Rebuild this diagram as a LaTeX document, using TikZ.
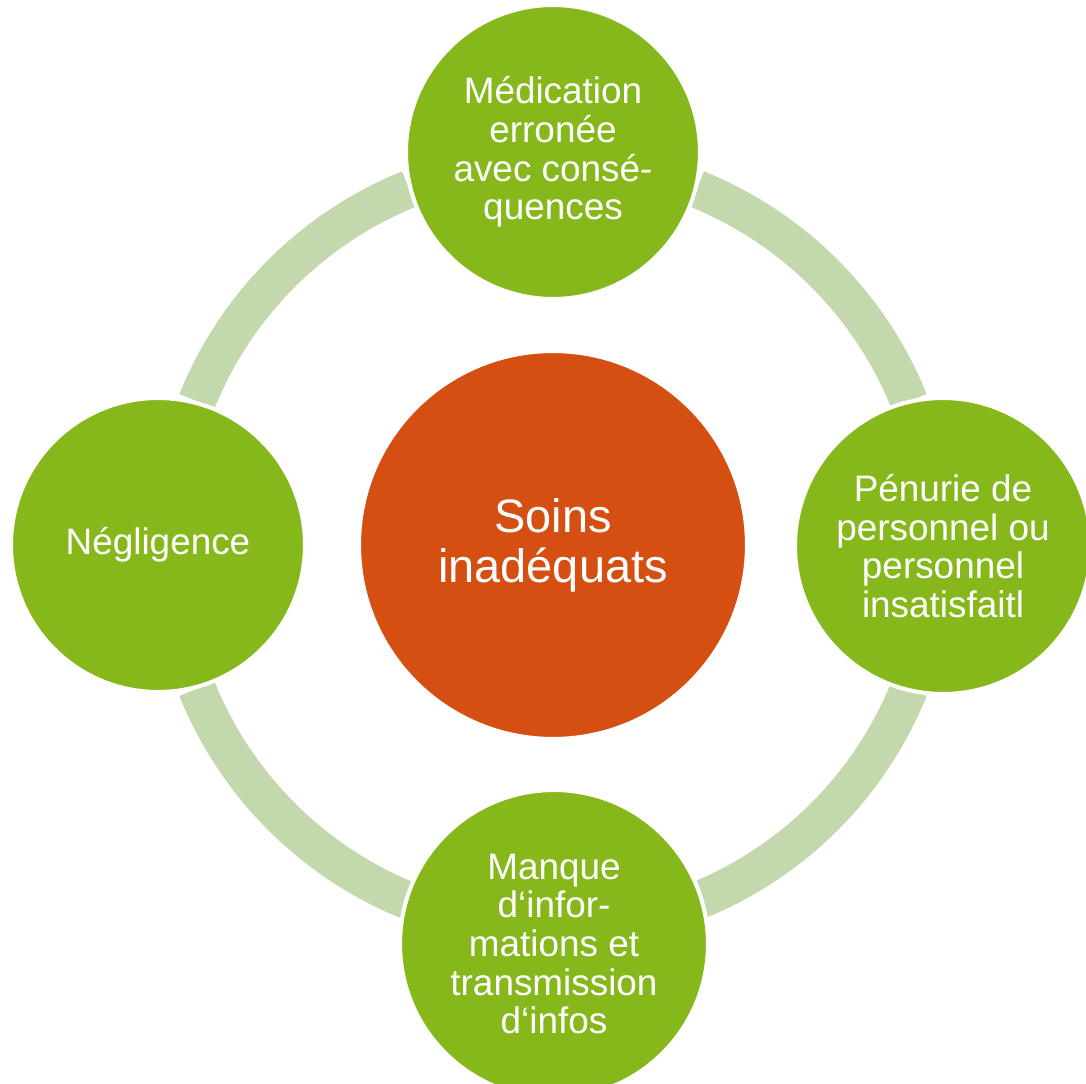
\documentclass[tikz,border=0pt]{standalone}
\usepackage{fontspec}
\setmainfont{Liberation Sans}
\definecolor{leafgreen}{RGB}{134,184,27}
\definecolor{rustorange}{RGB}{213,79,18}
\definecolor{palegreen}{RGB}{195,217,173}
\tikzset{
cause/.style={circle,fill=leafgreen,draw=white,line width=2.3pt,inner sep=0pt,text=white,align=center,
font=\fontsize{21}{22}\selectfont},
core/.style={circle,fill=rustorange,draw=white,line width=2.3pt,inner sep=0pt,text=white,align=center,
font=\fontsize{26.7}{28.4}\selectfont,minimum size=7.76cm},
ringarc/.style={fill=palegreen}
}

\begin{document}
\begin{tikzpicture}[x=0.02cm,y=0.02cm]
\useasboundingbox (-553,-538) rectangle (533,545);
% ring segments between the circles
\foreach \a/\b in {22/68,112/158,202/248,292/338}
  \fill[ringarc] (\a:403) arc[start angle=\a,end angle=\b,radius=403] -- (\b:365)
    arc[start angle=\b,end angle=\a,radius=365] -- cycle;
\node[core] (soins) at (0,0) {Soins\\inadéquats};
\node[cause,minimum size=5.88cm] (medic) at (0,393) {Médication\\erronée\\avec consé-\\quences};
\node[cause,minimum size=5.92cm] (penurie) at (390,-1) {Pénurie de\\personnel ou\\personnel\\insatisfaitl};
\node[cause,minimum size=6.16cm] (manque) at (1,-399) {Manque\\d‘infor-\\mations et\\transmission\\d‘infos};
\node[cause,minimum size=5.88cm] (neglig) at (-395,0) {Négligence};
\end{tikzpicture}
\end{document}
